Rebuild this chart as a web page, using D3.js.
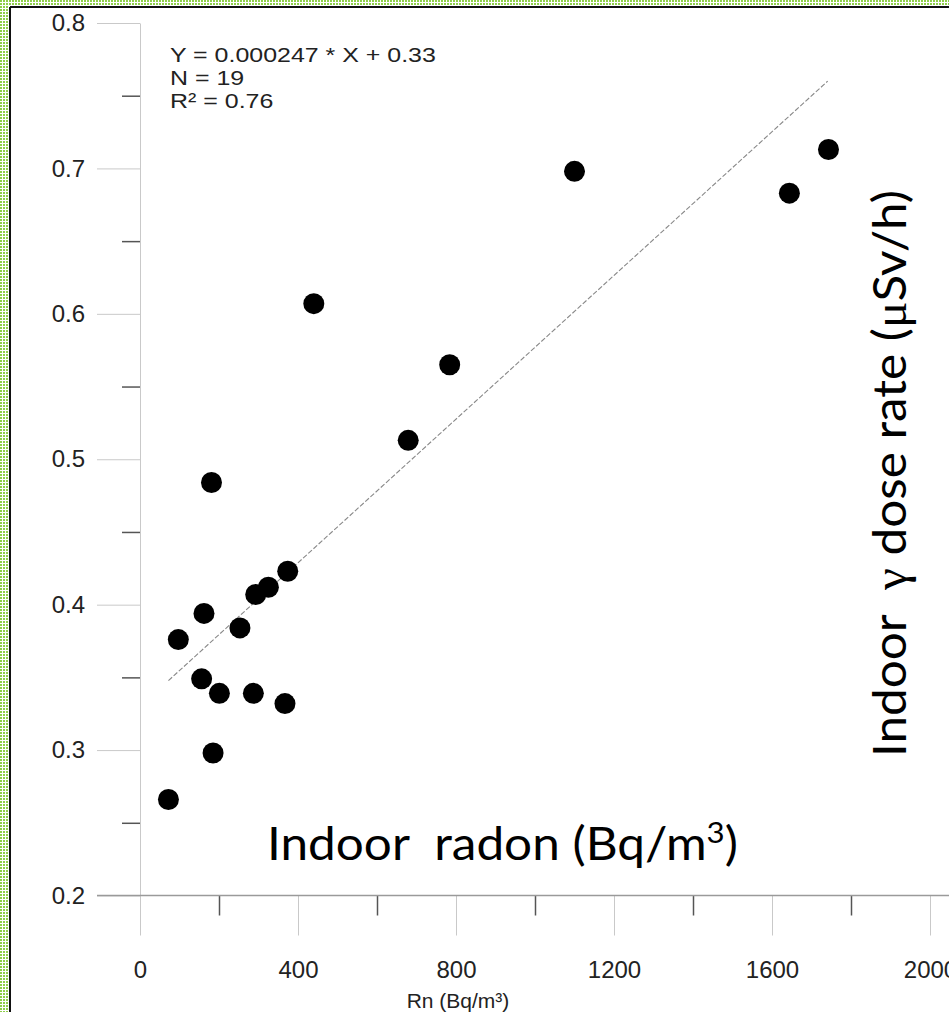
<!DOCTYPE html>
<meta charset="utf-8">
<script src="https://d3js.org/d3.v7.min.js"></script>
<style>
  body { margin: 0; background: #fff; }
  svg { display: block; }
</style>
<div id="chart"></div>
<script>

// values
var radon    = [181, 374, 325, 293, 162, 253, 97, 156, 201, 287, 367, 185, 72, 440, 679, 784, 1100, 1644, 1743];
var doseRate = [0.484, 0.423, 0.412, 0.407, 0.394, 0.384, 0.376, 0.349, 0.339, 0.339, 0.332, 0.298, 0.266, 0.607, 0.513, 0.565, 0.698, 0.683, 0.713];

var xTicks = [0, 400, 800, 1200, 1600, 2000];
var xMinorTicks = [200, 600, 1000, 1400, 1800];
var yTicks = [0.2, 0.3, 0.4, 0.5, 0.6, 0.7, 0.8];
var yMinorTicks = [0.25, 0.35, 0.45, 0.55, 0.65, 0.75];

// regression from the plot
var fitSlope = 0.000247, fitIntercept = 0.33;
var fitFrom = 72, fitTo = 1741;
var statLines = ["Y = 0.000247 * X + 0.33", "N = 19", "R\u00b2 = 0.76"];

var width = 949, height = 1012;

var svg = d3.select("#chart")
  .append("svg")
    .attr("width", width)
    .attr("height", height);

// dotted green frame (left and top only, picture is cropped)
var defs = svg.append("defs");
var pat = defs.append("pattern")
    .attr("id", "dots")
    .attr("width", 3).attr("height", 3)
    .attr("patternUnits", "userSpaceOnUse");
pat.append("rect").attr("width", 3).attr("height", 3).attr("fill", "#fff");
pat.append("rect").attr("width", 2).attr("height", 2).attr("fill", "#8fcf4a");

svg.append("rect").attr("x", 0).attr("y", 0).attr("width", 8).attr("height", height).attr("fill", "url(#dots)");
svg.append("rect").attr("x", 0).attr("y", 0).attr("width", width).attr("height", 6).attr("fill", "url(#dots)");
svg.append("line").attr("x1", 10).attr("y1", 7).attr("x2", 10).attr("y2", height)
    .style("stroke", "#111").style("stroke-width", 2);
svg.append("line").attr("x1", 10).attr("y1", 7).attr("x2", width).attr("y2", 7)
    .style("stroke", "#111").style("stroke-width", 2);

// scales
var x = d3.scaleLinear().domain([0, 2000]).range([140, 930]);
var y = d3.scaleLinear().domain([0.2, 0.8]).range([895.5, 23]);

// Y axis, major ticks
var yAxis = svg.append("g")
    .attr("transform", "translate(" + x(0) + ",0)")
    .call(d3.axisLeft(y).tickValues(yTicks).tickSize(43).tickSizeOuter(0)
      .tickPadding(12).tickFormat(d3.format(".1f")));
yAxis.select(".domain").style("stroke", "#c9c9c9");
yAxis.selectAll(".tick line").style("stroke", "#c9c9c9");
yAxis.selectAll("text")
    .style("font-family", "'Liberation Sans', Arial, sans-serif")
    .style("font-size", "24px")
    .style("fill", "#222");

// Y axis, minor ticks
var yMinor = svg.append("g")
    .attr("transform", "translate(" + x(0) + ",0)")
    .call(d3.axisLeft(y).tickValues(yMinorTicks).tickSize(18).tickFormat(""));
yMinor.select(".domain").remove();
yMinor.selectAll(".tick line").style("stroke", "#555").style("stroke-width", 1.5);

// X axis, major ticks
var xAxis = svg.append("g")
    .attr("transform", "translate(0," + y(0.2) + ")")
    .call(d3.axisBottom(x).tickValues(xTicks).tickSize(40).tickSizeOuter(0)
      .tickPadding(25).tickFormat(d3.format("d")));
xAxis.select(".domain").remove();
xAxis.selectAll(".tick line").style("stroke", "#c9c9c9");
xAxis.selectAll("text")
    .style("font-family", "'Liberation Sans', Arial, sans-serif")
    .style("font-size", "24px")
    .style("fill", "#222");

// X axis, minor ticks
var xMinor = svg.append("g")
    .attr("transform", "translate(0," + y(0.2) + ")")
    .call(d3.axisBottom(x).tickValues(xMinorTicks).tickSize(20).tickFormat(""));
xMinor.select(".domain").remove();
xMinor.selectAll(".tick line").style("stroke", "#555").style("stroke-width", 1.5);

// baseline at 0.2 running out to the right edge
svg.append("line")
    .attr("x1", x(0) - 43).attr("x2", width)
    .attr("y1", y(0.2)).attr("y2", y(0.2))
    .style("stroke", "#9a9a9a").style("stroke-width", 1.5);

// axis title under the ticks
svg.append("text")
    .attr("x", 458).attr("y", 1008)
    .attr("text-anchor", "middle")
    .style("font-family", "'Liberation Sans', Arial, sans-serif")
    .style("font-size", "21px")
    .style("fill", "#222")
    .text("Rn (Bq/m\u00b3)");

// regression line
svg.append("line")
    .attr("x1", x(fitFrom)).attr("y1", y(fitSlope * fitFrom + fitIntercept))
    .attr("x2", x(fitTo)).attr("y2", y(fitSlope * fitTo + fitIntercept))
    .style("stroke", "#888")
    .style("stroke-width", 1.1)
    .style("stroke-dasharray", "5,2");

// points
svg.selectAll("circle.pt")
    .data(radon)
    .enter()
    .append("circle")
      .attr("class", "pt")
      .attr("cx", function(d) { return x(d); })
      .attr("cy", function(d, i) { return y(doseRate[i]); })
      .attr("r", 10.5)
      .style("fill", "#000");

// regression stats, a bit wide and short like in the picture
var stats = svg.append("g");
stats.selectAll("text.stat")
    .data(statLines)
    .enter()
    .append("text")
      .attr("class", "stat")
      .attr("x", 0)
      .attr("y", function(d, i) { return i * 23; })
      .style("font-family", "'Liberation Sans', Arial, sans-serif")
      .style("font-size", "20.5px")
      .style("fill", "#222")
      .text(function(d) { return d; });
var sw = stats.select("text").node().getComputedTextLength();
stats.attr("transform", "translate(170,62) scale(" + (266 / sw) + ",1)");

// big labels pasted on top, stretched to the width they take in the picture
var big = "Lato, 'Open Sans', sans-serif";
var xt = svg.append("text")
    .style("font-family", big)
    .style("font-size", "46px")
    .style("fill", "#000");
xt.append("tspan").text("Indoor\u00a0\u00a0radon (Bq/m");
xt.append("tspan").attr("dy", -17).style("font-size", "29px").text("3");
xt.append("tspan").attr("dy", 17).text(")");
var xtw = xt.node().getBBox().width;
xt.attr("transform", "translate(267,860) scale(" + (471 / xtw) + ",1)");

var yt = svg.append("text")
    .style("font-family", big)
    .style("font-size", "46px")
    .style("fill", "#000");
yt.append("tspan").text("Indoor\u00a0\u00a0");
yt.append("tspan").style("font-family", "'Liberation Serif', serif").text("\u03b3");
yt.append("tspan").text(" dose rate (");
yt.append("tspan").style("font-family", "'Liberation Serif', serif").text("\u03bc");
yt.append("tspan").text("Sv/h)");
var ytw = yt.node().getBBox().width;
yt.attr("transform", "translate(906,757) rotate(-90) scale(" + (567 / ytw) + ",1)");

</script>
